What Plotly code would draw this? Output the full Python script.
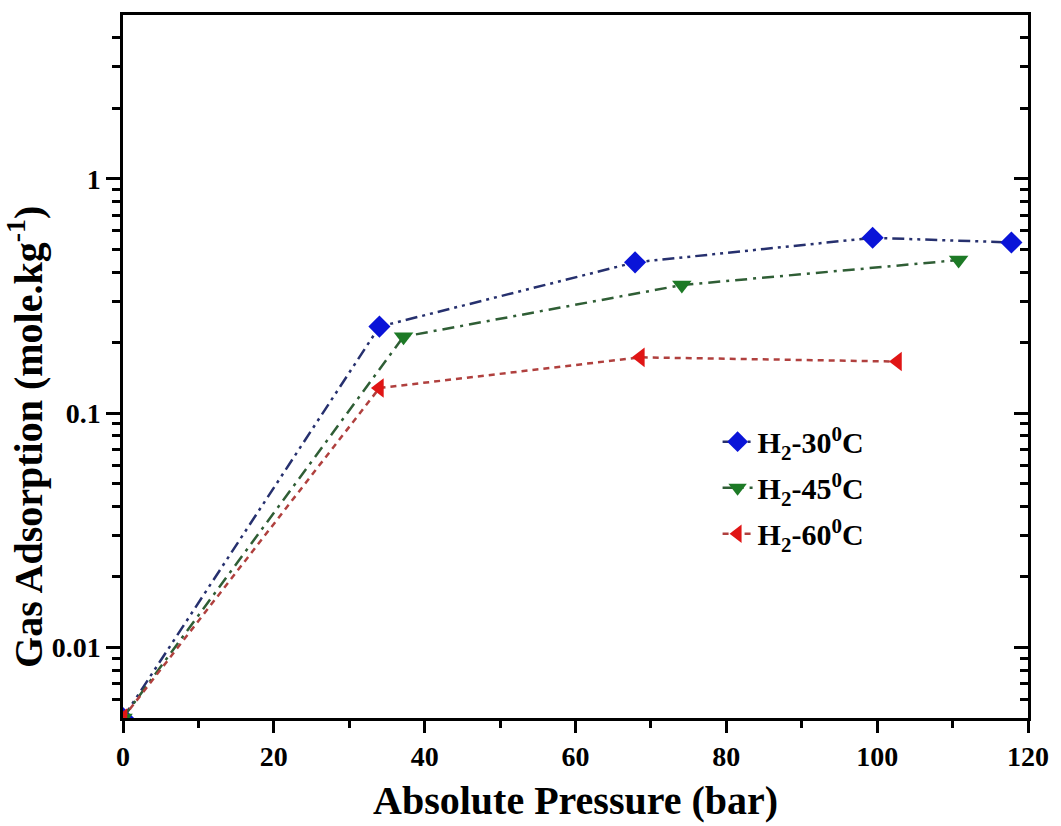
import plotly.graph_objects as go

# Hydrogen adsorption isotherms
p_30 = [0, 34.0, 67.9, 99.4, 117.8]
q_30 = [0.005, 0.234, 0.44, 0.56, 0.535]

p_45 = [0, 37.2, 74.1, 110.8]
q_45 = [0.005, 0.212, 0.352, 0.45]

p_60 = [0, 34.0, 68.6, 102.7]
q_60 = [0.005, 0.128, 0.173, 0.166]

names = ["H<sub>2</sub>-30<sup>0</sup>C", "H<sub>2</sub>-45<sup>0</sup>C", "H<sub>2</sub>-60<sup>0</sup>C"]

x_ticks = [0, 20, 40, 60, 80, 100, 120]
x_minor = [10, 30, 50, 70, 90, 110]
y_major = [0.01, 0.1, 1]
y_major_text = ["0.01", "0.1", "1"]
y_minor = [0.006, 0.007, 0.008, 0.009,
           0.02, 0.03, 0.04, 0.05, 0.06, 0.07, 0.08, 0.09,
           0.2, 0.3, 0.4, 0.5, 0.6, 0.7, 0.8, 0.9,
           2, 3, 4]

FONT = "Liberation Serif"
AX = dict(showline=True, linewidth=2.5, linecolor="black",
          showgrid=False, zeroline=False, tickcolor="black", tickwidth=2.5)

fig = go.Figure()

fig.add_trace(go.Scatter(
    x=p_30, y=q_30, name=names[0], mode="lines+markers", legendgroup="a",
    line=dict(color="#26306e", width=2.5, dash="12px,5px,3px,5px,3px,5px"),
    marker=dict(symbol="diamond", size=17, color="#0a14d8"),
))
fig.add_trace(go.Scatter(
    x=p_45, y=q_45, name=names[1], mode="lines+markers", legendgroup="b",
    line=dict(color="#2f5e35", width=2.5, dash="12px,6px,3px,6px"),
    marker=dict(symbol="triangle-down", size=17, color="#1d7a26"),
))
fig.add_trace(go.Scatter(
    x=p_60, y=q_60, name=names[2], mode="lines+markers", legendgroup="c",
    line=dict(color="#b0403e", width=2.5, dash="6px,5px"),
    marker=dict(symbol="triangle-left", size=17, color="#e01515"),
))

# right-hand axis carrying inward ticks
fig.add_trace(go.Scatter(x=[None], y=[None], yaxis="y2", showlegend=False,
                         hoverinfo="skip"))

fig.update_layout(
    width=1061, height=826,
    margin=dict(l=123, r=28, t=14, b=108),
    paper_bgcolor="white", plot_bgcolor="white",
    font=dict(family=FONT, color="black"),
    showlegend=True,
    legend=dict(
        x=0.657, y=0.43, xanchor="left", yanchor="top",
        font=dict(family=FONT, size=30, color="black", weight="bold"),
        bgcolor="rgba(0,0,0,0)", tracegroupgap=4,
    ),
    xaxis=dict(
        range=[0, 120], tickvals=x_ticks,
        ticks="outside", ticklen=12,
        minor=dict(tickvals=x_minor, ticks="outside", ticklen=7,
                   tickwidth=2.5, tickcolor="black"),
        mirror=True,
        tickfont=dict(family=FONT, size=28, weight="bold"),
        **AX,
    ),
    yaxis=dict(
        type="log", range=[-2.30103, 0.69897],
        tickvals=y_major, ticktext=y_major_text,
        ticks="outside", ticklen=14,
        minor=dict(tickvals=y_minor, ticks="outside", ticklen=8,
                   tickwidth=2.5, tickcolor="black"),
        tickfont=dict(family=FONT, size=28, weight="bold"),
        **AX,
    ),
    yaxis2=dict(
        type="log", range=[-2.30103, 0.69897], overlaying="y", side="right",
        anchor="x", tickvals=y_major, showticklabels=False,
        ticks="inside", ticklen=14,
        minor=dict(tickvals=y_minor, ticks="inside", ticklen=8,
                   tickwidth=2.5, tickcolor="black"),
        **AX,
    ),
    annotations=[
        dict(text="Absolute Pressure (bar)", xref="paper", yref="paper",
             x=0.5, y=-0.117, xanchor="center", yanchor="middle",
             showarrow=False,
             font=dict(family=FONT, size=40, weight="bold", color="black")),
        dict(text="Gas Adsorption (mole.kg<sup>-1</sup>)", xref="paper",
             yref="paper", x=-0.107, y=0.40, xanchor="center",
             yanchor="middle", textangle=-90, showarrow=False,
             font=dict(family=FONT, size=40, weight="bold", color="black")),
    ],
)

fig.write_html("out.html")
